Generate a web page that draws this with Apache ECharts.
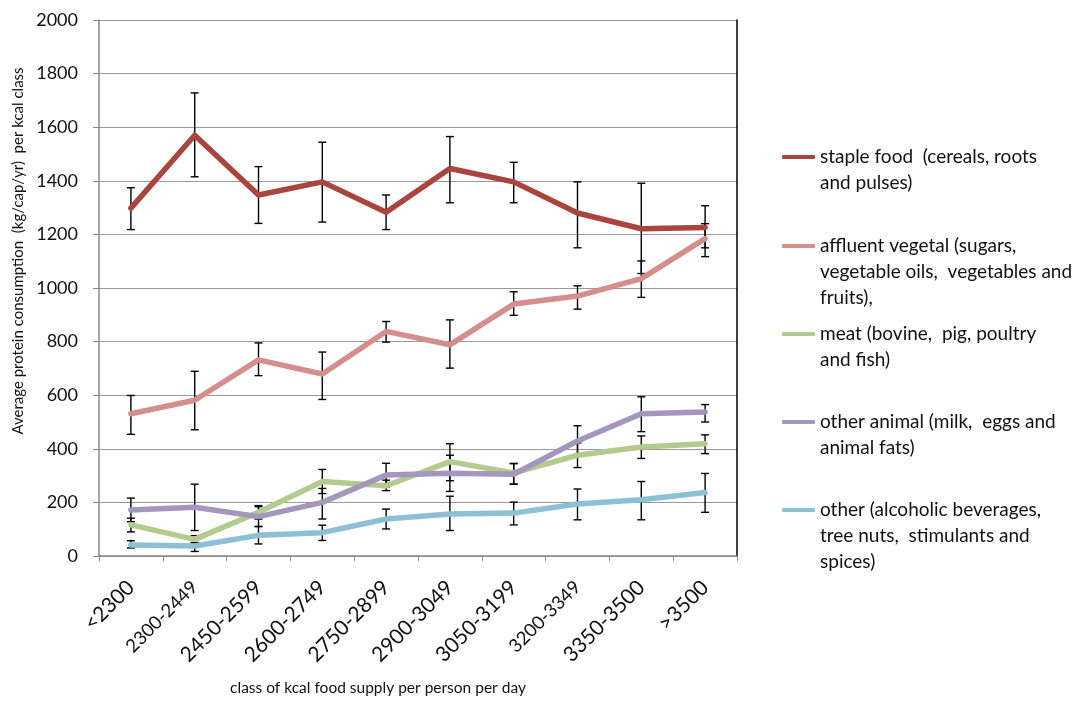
<!DOCTYPE html>
<html>
<head>
<meta charset="utf-8">
<script src="https://cdn.jsdelivr.net/npm/echarts@6/dist/echarts.min.js"></script>
<style>html,body{margin:0;padding:0;background:#fff}#c{width:1072px;height:701px}</style>
</head>
<body>
<div id="c"></div>
<script>
const categories = ['<2300','2300-2449','2450-2599','2600-2749','2750-2899','2900-3049','3050-3199','3200-3349','3350-3500','>3500'];
const smallLabels = ['2300-2449','3200-3349'];
const yTicks = {min: 0, max: 2000, interval: 200};

const seriesNames = ['staple food', 'affluent vegetal', 'meat', 'other animal', 'other'];
const legendTexts = [
  'staple food  (cereals, roots\nand pulses)',
  'affluent vegetal (sugars,\nvegetable oils,  vegetables and\nfruits),',
  'meat (bovine,  pig, poultry\nand fish)',
  'other animal (milk,  eggs and\nanimal fats)',
  'other (alcoholic beverages,\ntree nuts,  stimulants and\nspices)'
];

const staple     = [1298, 1570, 1347, 1396, 1283, 1446, 1396, 1280, 1221, 1226];
const stapleLo   = [1218, 1415, 1241, 1246, 1218, 1318, 1318, 1150, 1054, 1150];
const stapleHi   = [1374, 1728, 1453, 1544, 1347, 1565, 1469, 1396, 1391, 1307];

const affluent   = [531, 581, 732, 679, 838, 788, 940, 970, 1035, 1184];
const affluentLo = [454, 471, 673, 584, 798, 701, 898, 921, 965, 1117];
const affluentHi = [599, 689, 795, 761, 875, 881, 986, 1008, 1101, 1240];

const meat       = [116, 62, 163, 278, 262, 352, 310, 376, 407, 419];
const meatLo     = [90, 48, 138, 233, 244, 281, 268, 330, 364, 382];
const meatHi     = [141, 76, 188, 323, 283, 419, 345, 422, 448, 452];

const animal     = [172, 182, 147, 200, 302, 309, 305, 429, 531, 537];
const animalLo   = [128, 95, 110, 138, 258, 241, 268, 372, 464, 500];
const animalHi   = [216, 268, 184, 252, 346, 376, 345, 486, 594, 565];

const other      = [41, 37, 77, 87, 138, 157, 160, 194, 210, 237];
const otherLo    = [30, 17, 45, 58, 101, 95, 116, 135, 135, 163];
const otherHi    = [57, 50, 110, 115, 175, 223, 201, 250, 278, 308];

const colors = ['#A9443F', '#D48F8D', '#B4CB8F', '#A496BD', '#8DC0D6'];
const values = [staple, affluent, meat, animal, other];
const lows = [stapleLo, affluentLo, meatLo, animalLo, otherLo];
const highs = [stapleHi, affluentHi, meatHi, animalHi, otherHi];

const FONT = 'Lato, "Open Sans", sans-serif';

function errRender(params, api) {
  const x = api.value(0);
  const p1 = api.coord([x, api.value(1)]);
  const p2 = api.coord([x, api.value(2)]);
  const hw = 4;
  const st = {stroke: '#000', lineWidth: 1.4};
  return {
    type: 'group',
    children: [
      {type: 'line', shape: {x1: p1[0], y1: p1[1], x2: p2[0], y2: p2[1]}, style: st},
      {type: 'line', shape: {x1: p1[0]-hw, y1: p1[1], x2: p1[0]+hw, y2: p1[1]}, style: st},
      {type: 'line', shape: {x1: p2[0]-hw, y1: p2[1], x2: p2[0]+hw, y2: p2[1]}, style: st}
    ]
  };
}

const series = [];
values.forEach((v, k) => {
  series.push({
    type: 'custom', name: seriesNames[k] + ' err', renderItem: errRender, z: 1,
    data: lows[k].map((l, i) => [i, l, highs[k][i]]),
    encode: {x: 0, y: [1, 2]}, silent: true
  });
});
values.forEach((v, k) => {
  series.push({
    type: 'line', name: seriesNames[k], data: v, symbol: 'none', z: 3,
    lineStyle: {color: colors[k], width: 5.5, join: 'round', cap: 'round'},
    itemStyle: {color: colors[k]}
  });
});

const LH = 26;
const iconY = [157, 246, 334, 422, 510];
const legends = seriesNames.map((n, k) => {
  const lines = legendTexts[k].split('\n');
  const nl = lines.length;
  const padded = new Array(nl - 1).fill(' ').concat(lines).join('\n');
  const H = (2 * nl - 1) * LH;
  return {
    data: [n], left: 782, top: iconY[k] - H / 2, padding: 0,
    itemWidth: 33, itemHeight: 4, itemGap: 5, icon: 'roundRect',
    formatter: () => padded, selectedMode: false,
    textStyle: {fontFamily: FONT, fontSize: 19, color: '#111', lineHeight: LH}
  };
});

const chart = echarts.init(document.getElementById('c'), null, {renderer: 'canvas'});
chart.setOption({
  animation: false,
  color: colors,
  grid: {left: 99, right: 335, top: 20, bottom: 142, containLabel: false},
  legend: legends,
  xAxis: {
    type: 'category', data: categories, boundaryGap: true,
    name: 'class of kcal food supply per person per day', nameLocation: 'middle', nameGap: 124,
    nameTextStyle: {fontFamily: FONT, fontSize: 15.5, color: '#111', padding: [0, 80, 0, 0]},
    axisLine: {lineStyle: {color: '#888', width: 1.5}},
    axisTick: {show: true, alignWithLabel: false, length: 5, lineStyle: {color: '#888'}},
    axisLabel: {
      rotate: 45, margin: 28, interval: 0, fontFamily: FONT, fontSize: 21, color: '#111',
      formatter: v => smallLabels.includes(v) ? '{s|' + v + '}' : v,
      rich: {s: {fontFamily: FONT, fontSize: 18.5, color: '#111'}}
    }
  },
  yAxis: [{
    type: 'value', min: yTicks.min, max: yTicks.max, interval: yTicks.interval,
    name: 'Average protein consumption  (kg/cap/yr)  per kcal class', nameLocation: 'middle', nameGap: 72,
    nameTextStyle: {fontFamily: FONT, fontSize: 15, color: '#111', padding: [0, 0, 0, 74]},
    axisLine: {show: true, lineStyle: {color: '#888', width: 1.5}},
    axisTick: {show: true, length: 6, lineStyle: {color: '#888'}},
    axisLabel: {fontFamily: FONT, fontSize: 18, color: '#111', margin: 21, formatter: v => String(v)},
    splitLine: {lineStyle: {color: '#999', width: 1.2}}
  }, {
    type: 'value', min: yTicks.min, max: yTicks.max, interval: yTicks.interval, position: 'right',
    axisLine: {show: true, lineStyle: {color: '#000', width: 1.5}},
    axisTick: {show: false}, axisLabel: {show: false}, splitLine: {show: false}
  }],
  series: series
});
</script>
</body>
</html>
